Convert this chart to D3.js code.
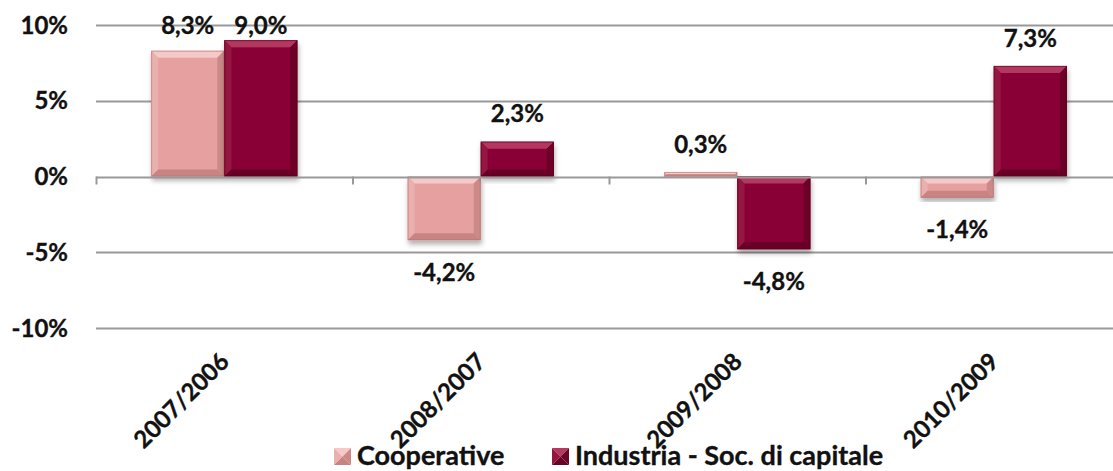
<!DOCTYPE html>
<html>
<head>
<meta charset="utf-8">
<script src="https://cdn.jsdelivr.net/npm/d3@7"></script>
<style>
  body { margin: 0; background: #fff; }
  svg { display: block; font-family: Lato, "Open Sans", sans-serif; font-weight: bold; }
  svg text { stroke: #111; stroke-width: 0.35px; }
</style>
</head>
<body>
<div id="chart"></div>
<script>
// --- data ---
const categories = ["2007/2006", "2008/2007", "2009/2008", "2010/2009"];
const seriesNames = ["Cooperative", "Industria - Soc. di capitale"];
const cooperative = [8.3, -4.2, 0.3, -1.4];
const industria = [9.0, 2.3, -4.8, 7.3];
const yTicks = [-10, -5, 0, 5, 10];

const width = 1113, height = 471;

// palette: face, top, left, right, bottom bevels
const palettes = [
  { face: "#e6a09f", top: "#f4c9c7", left: "#eab0ae", right: "#cb8a88", bottom: "#c78482", edge: "#b87775" },
  { face: "#880634", top: "#b3395f", left: "#951440", right: "#6d0428", bottom: "#680326", edge: "#5a0220" }
];

const svg = d3.select("#chart").append("svg")
  .attr("width", width)
  .attr("height", height);

const defs = svg.append("defs");
defs.append("filter")
  .attr("id", "shadow")
  .attr("x", "-20%").attr("y", "-20%").attr("width", "140%").attr("height", "140%")
  .append("feDropShadow")
  .attr("dx", 1).attr("dy", 4).attr("stdDeviation", 2.5)
  .attr("flood-color", "#000").attr("flood-opacity", 0.3);

const x = d3.scaleBand()
  .domain(categories)
  .range([96, 1122])
  .padding(0);

const groupW = x.bandwidth() * 0.57;
const xs = d3.scaleBand()
  .domain(d3.range(seriesNames.length))
  .range([0, groupW]);

const y = d3.scaleLinear()
  .domain([-10, 10])
  .range([328, 25]);

// comma decimal, plain hyphen for minus
const fmt = v => (v < 0 ? "-" : "") + d3.format(".1f")(Math.abs(v)).replace(".", ",") + "%";

// gridlines
svg.append("g")
  .selectAll("line")
  .data(yTicks.filter(t => t !== 0))
  .join("line")
  .attr("x1", 96).attr("x2", width)
  .attr("y1", d => Math.round(y(d)) + 0.5)
  .attr("y2", d => Math.round(y(d)) + 0.5)
  .attr("stroke", "#999")
  .attr("stroke-width", 2);

// y labels
svg.append("g")
  .selectAll("text")
  .data(yTicks)
  .join("text")
  .attr("x", 68)
  .attr("y", d => y(d))
  .attr("dy", "0.36em")
  .attr("text-anchor", "end")
  .attr("font-size", 24)
  .attr("fill", "#111")
  .text(d => d + "%");

// bars with bevel
function bevelBar(g, x0, y0, w, h, p) {
  const b = Math.min(7, h / 2, w / 2);
  const x1 = x0 + w, y1 = y0 + h;
  const grp = g.append("g").attr("filter", "url(#shadow)");
  grp.append("rect")
    .attr("x", x0).attr("y", y0).attr("width", w).attr("height", h)
    .attr("fill", p.face);
  const polys = [
    { pts: [[x0, y0], [x1, y0], [x1 - b, y0 + b], [x0 + b, y0 + b]], c: p.top },
    { pts: [[x0, y0], [x0 + b, y0 + b], [x0 + b, y1 - b], [x0, y1]], c: p.left },
    { pts: [[x1, y0], [x1, y1], [x1 - b, y1 - b], [x1 - b, y0 + b]], c: p.right },
    { pts: [[x0, y1], [x0 + b, y1 - b], [x1 - b, y1 - b], [x1, y1]], c: p.bottom }
  ];
  grp.selectAll("polygon.bv")
    .data(polys)
    .join("polygon")
    .attr("points", d => d.pts.map(q => q.join(",")).join(" "))
    .attr("fill", d => d.c);
  grp.append("rect")
    .attr("x", x0 + 0.5).attr("y", y0 + 0.5).attr("width", Math.max(0, w - 1)).attr("height", Math.max(0, h - 1))
    .attr("fill", "none").attr("stroke", p.edge).attr("stroke-width", 1).attr("stroke-opacity", 0.6);
}

const seriesData = [cooperative, industria];
const barLayer = svg.append("g");
const labelLayer = svg.append("g");

seriesData.forEach((vals, si) => {
  vals.forEach((v, ci) => {
    const cx = x(categories[ci]) + (x.bandwidth() - groupW) / 2 + xs(si);
    const top = Math.min(y(v), y(0));
    const h = Math.abs(y(v) - y(0));
    bevelBar(barLayer, cx, top, xs.bandwidth(), h, palettes[si]);

    const ly = v >= 0 ? Math.max(y(v) - 28, 25) : y(v) + 32;
    labelLayer.append("text")
      .attr("x", cx + xs.bandwidth() / 2)
      .attr("y", ly)
      .attr("dy", "0.36em")
      .attr("text-anchor", "middle")
      .attr("font-size", 24)
      .attr("fill", "#111")
      .text(fmt(v));
  });
});

// zero axis + ticks
const axisG = svg.append("g");
axisG.append("line")
  .attr("x1", 96).attr("x2", width)
  .attr("y1", Math.round(y(0)) + 0.5).attr("y2", Math.round(y(0)) + 0.5)
  .attr("stroke", "#999").attr("stroke-width", 2);
axisG.selectAll("line.tk")
  .data(categories)
  .join("line")
  .attr("class", "tk")
  .attr("x1", d => x(d) + 0.5).attr("x2", d => x(d) + 0.5)
  .attr("y1", y(0)).attr("y2", y(0) + 8)
  .attr("stroke", "#999").attr("stroke-width", 2);

// category labels, rotated
svg.append("g")
  .selectAll("text")
  .data(categories)
  .join("text")
  .attr("transform", d => `translate(${x(d) + x.bandwidth() / 2 - 6},${351}) rotate(-45)`)
  .attr("dy", "0.72em")
  .attr("text-anchor", "end")
  .attr("font-size", 24)
  .attr("fill", "#111")
  .text(d => d);

// legend
const legendX = [334, 552];
const legend = svg.append("g");
seriesNames.forEach((name, i) => {
  const p = palettes[i];
  const lx = legendX[i], ly = 448, s = 17;
  const c = [lx + s / 2, ly + s / 2];
  const tris = [
    { pts: [[lx, ly], [lx + s, ly], c], c: p.top },
    { pts: [[lx, ly], c, [lx, ly + s]], c: p.left },
    { pts: [[lx + s, ly], [lx + s, ly + s], c], c: p.right },
    { pts: [[lx, ly + s], c, [lx + s, ly + s]], c: p.bottom }
  ];
  legend.append("g").selectAll("polygon")
    .data(tris)
    .join("polygon")
    .attr("points", d => d.pts.map(q => q.join(",")).join(" "))
    .attr("fill", d => d.c);
  legend.append("text")
    .attr("x", lx + s + 6)
    .attr("y", 465)
    .attr("font-size", 27)
    .attr("fill", "#111")
    .text(name);
});
</script>
</body>
</html>
